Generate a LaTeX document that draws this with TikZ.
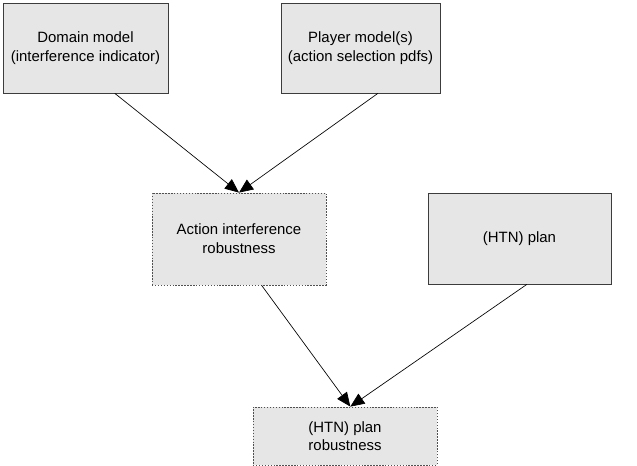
\documentclass[tikz,border=0pt]{standalone}
\usepackage{fontspec}
\setmainfont{Liberation Sans}
\usetikzlibrary{arrows.meta}

\tikzset{
  box/.style={draw={rgb,255:red,60;green,60;blue,60}, fill={rgb,255:red,230;green,230;blue,230}, line width=0.6pt, align=center, inner sep=0.75pt, font=\fontsize{11.2}{14}\selectfont},
  dotbox/.style={box, draw={rgb,255:red,80;green,80;blue,80}, dash pattern={on 1.1pt off 1.1pt}},
  link/.style={draw, line width=0.5pt, -{Triangle[length=10.5pt,width=9pt]}}
}

\begin{document}
\begin{tikzpicture}[x=0.75pt,y=0.75pt,yscale=-1,xscale=1]
			%set diagram left start at 0, and has height of 466
			\useasboundingbox (0,0) rectangle (637,466);
			%Shape: Rectangle [id:domain] 
			\node [box, minimum width=123.75pt, minimum height=67.5pt] (domain) at (85.5,48) {Domain model\\(interference indicator)};
			%Shape: Rectangle [id:player] 
			\node [box, minimum width=119.25pt, minimum height=67.5pt] (player) at (360.5,48) {Player model(s)\\(action selection pdfs)};
			%Shape: Rectangle [id:action] 
			\node [dotbox, minimum width=130.5pt, minimum height=69pt] (action) at (239,239) {Action interference\\robustness};
			%Shape: Rectangle [id:plan] 
			\node [box, minimum width=137.25pt, minimum height=68.25pt] (plan) at (519.5,238.5) {(HTN) plan};
			%Shape: Rectangle [id:robust] 
			\node [dotbox, minimum width=138pt, minimum height=43.5pt] (robust) at (345,436) {(HTN) plan\\robustness};
			%Straight Lines [id:domain-action] 
			\draw [link] ([xshift=22pt]domain.south) -- (action.north) ;
			%Straight Lines [id:player-action] 
			\draw [link] ([xshift=13pt]player.south) -- (action.north) ;
			%Straight Lines [id:action-robust] 
			\draw [link] ([xshift=17pt]action.south) -- ([xshift=4pt]robust.north) ;
			%Straight Lines [id:plan-robust] 
			\draw [link] ([xshift=5.5pt]plan.south) -- ([xshift=4pt]robust.north) ;
\end{tikzpicture}
\end{document}
